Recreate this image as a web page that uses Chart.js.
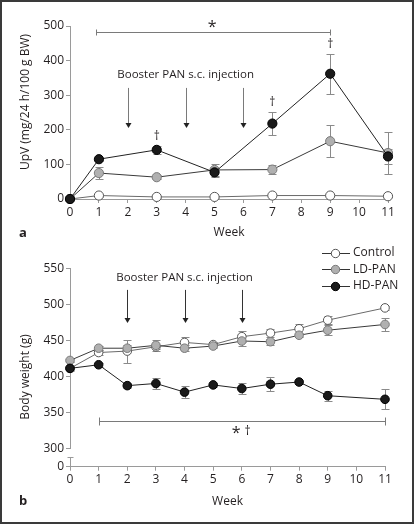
<!DOCTYPE html>
<html><head><meta charset="utf-8">
<script src="https://cdn.jsdelivr.net/npm/chart.js@4.4.1/dist/chart.umd.min.js"></script>
<style>
html,body{margin:0;padding:0;background:#fff;}
#wrap{position:relative;width:414px;height:524px;background:#fff;overflow:hidden;}
#wrap canvas{position:absolute;left:0;top:0;}
#frame{position:absolute;left:0;top:0;width:410px;height:520px;border:2px solid #3a3a3a;pointer-events:none;}
</style></head><body>
<div id="wrap"><canvas id="ca" width="414" height="524"></canvas><canvas id="cb" width="414" height="524"></canvas><div id="frame"></div></div>
<script>
// ---------- data ----------
const weekTicks = [0,1,2,3,4,5,6,7,8,9,10,11];
const weekTickLabels = ['0','1','2','3','4','5','6','7','8','9','10','11'];
const seriesNames = ['Control','LD-PAN','HD-PAN'];

// Panel a: urinary protein
const weeksA = [0,1,3,5,7,9,11];
const upvControl = [0,10,6,6,10,10,8];
const upvLD = [0,75,63,84,85,167,133];
const upvHD = [0,115,142,77,218,362,123];
const upvControlErr = [0,3,2,2,3,3,2];
const upvLDErr = [0,18,5,18,12,46,62];
const upvHDErr = [0,6,12,14,34,58,22];
const upvTicks = [0,100,200,300,400,500];
const upvTickLabels = ['0','100','200','300','400','500'];
const upvDaggerWeeks = [3,7,9];

// Panel b: body weight
const weeksB = [0,1,2,3,4,5,6,7,8,9,11];
const bwControl = [411,433,435,441,447,444,455,460,466,478,495];
const bwLD = [422,439,439,443,439,442,449,448,457,464,472];
const bwHD = [411,416,387,390,378,388,383,389,392,373,368];
const bwControlErr = [2,3,16,3,8,3,8,6,7,6,3];
const bwLDErr = [2,3,4,8,4,3,7,4,3,7,9];
const bwHDErr = [3,3,3,7,8,3,8,10,3,7,14];
const bwFloor = 274.4;           // broken axis: bottom of axis labelled 0
const bwTicks = [274.4,300,350,400,450,500,550];
const bwTickLabels = ['0','300','350','400','450','500','550'];

const boosterWeeks = [2,4,6];

// ---------- styling ----------
const FONT = "'Open Sans', 'Noto Sans', sans-serif";
const FS = 12;
const TXT = '#231f20';
const AX = '#9a9a9a';
Chart.defaults.font.family = FONT;
Chart.defaults.font.size = FS;
Chart.defaults.color = TXT;

const look = [
  {borderColor:'#6a6a6a', pointBackgroundColor:'#ffffff', pointBorderColor:'#555555', order:3},
  {borderColor:'#3a3a3a', pointBackgroundColor:'#b0b0b0', pointBorderColor:'#7a7a7a', order:2},
  {borderColor:'#222222', pointBackgroundColor:'#1a1a1a', pointBorderColor:'#000000', order:1}
];

function pts(xs, ys){ return xs.map((x,i)=>({x:x, y:ys[i]})); }
function makeSet(i, xs, ys, errs, r){
  return Object.assign({
    label: seriesNames[i], data: pts(xs, ys), errors: errs,
    borderWidth: 1, pointRadius: r, pointBorderWidth: 1, pointHoverRadius: r,
    fill: false, tension: 0, clip: false
  }, look[i]);
}

function xScale(){
  return {
    type:'linear', min:0, max:11,
    afterBuildTicks(s){ s.ticks = weekTicks.map(v=>({value:v})); },
    afterFit(s){ s.height = 22; },
    ticks:{ autoSkip:false, maxRotation:0, padding:2, color:TXT, font:{size:FS},
      callback:(v)=> weekTickLabels[weekTicks.indexOf(v)] },
    grid:{ drawOnChartArea:false, drawTicks:true, tickLength:4, color:AX },
    border:{ color:AX, width:1 }
  };
}
function yScale(min, max, ticks, labels){
  return {
    type:'linear', min:min, max:max,
    afterBuildTicks(s){ s.ticks = ticks.map(v=>({value:v})); },
    afterFit(s){ s.width = 70; },
    ticks:{ autoSkip:false, padding:2, color:TXT, font:{size:FS},
      callback:(v)=> labels[ticks.indexOf(v)] },
    grid:{ drawOnChartArea:false, drawTicks:true, tickLength:4, color:AX },
    border:{ color:AX, width:1 }
  };
}

const errorBars = {
  id:'errorBars',
  beforeDatasetsDraw(chart){
    const ctx = chart.ctx, xs = chart.scales.x, ys = chart.scales.y;
    ctx.save();
    ctx.strokeStyle = '#8a8a8a'; ctx.lineWidth = 1;
    chart.data.datasets.forEach(ds=>{
      if(!ds.errors) return;
      ds.data.forEach((p,j)=>{
        const e = ds.errors[j]; if(!e) return;
        const px = Math.round(xs.getPixelForValue(p.x)) + 0.5;
        const t = Math.round(ys.getPixelForValue(p.y + e)) + 0.5;
        const b = Math.round(ys.getPixelForValue(p.y - e)) + 0.5;
        ctx.beginPath();
        ctx.moveTo(px, t); ctx.lineTo(px, b);
        ctx.moveTo(px-4, t); ctx.lineTo(px+4, t);
        ctx.moveTo(px-4, b); ctx.lineTo(px+4, b);
        ctx.stroke();
      });
    });
    ctx.restore();
  }
};

function txt(ctx, s, x, y, opts){
  opts = opts || {};
  ctx.save();
  ctx.font = (opts.weight||'normal') + ' ' + (opts.size||FS) + 'px ' + FONT;
  ctx.fillStyle = opts.color || TXT;
  ctx.textAlign = opts.align || 'center';
  ctx.textBaseline = opts.base || 'middle';
  if(opts.rot){ ctx.translate(x,y); ctx.rotate(opts.rot); ctx.fillText(s,0,0); }
  else ctx.fillText(s, x, y);
  ctx.restore();
}
function arrow(ctx, x, y1, y2, col){
  x = Math.round(x) + 0.5;
  ctx.save();
  ctx.strokeStyle = col; ctx.fillStyle = '#222'; ctx.lineWidth = 1;
  ctx.beginPath(); ctx.moveTo(x, y1); ctx.lineTo(x, y2-4); ctx.stroke();
  ctx.beginPath(); ctx.moveTo(x-3, y2-5); ctx.lineTo(x+3, y2-5); ctx.lineTo(x, y2); ctx.closePath(); ctx.fill();
  ctx.restore();
}
function bracket(ctx, x1, x2, y, up, down){
  y = Math.round(y) + 0.5; x1 = Math.round(x1)+0.5; x2 = Math.round(x2)+0.5;
  ctx.save(); ctx.strokeStyle = '#7a7a7a'; ctx.lineWidth = 1;
  ctx.beginPath();
  ctx.moveTo(x1, y); ctx.lineTo(x2, y);
  ctx.moveTo(x1, y-up); ctx.lineTo(x1, y+down);
  ctx.moveTo(x2, y-up); ctx.lineTo(x2, y+down);
  ctx.stroke(); ctx.restore();
}

const annotA = {
  id:'annotA',
  afterDraw(chart){
    const ctx = chart.ctx, x = chart.scales.x, y = chart.scales.y, ca = chart.chartArea;
    txt(ctx, 'UpV (mg/24 h/100 g BW)', 26, 102, {rot:-Math.PI/2});
    txt(ctx, 'Week', (ca.left+ca.right)/2, 233);
    txt(ctx, 'a', 23, 233, {weight:'bold', size:13});
    txt(ctx, 'Booster PAN s.c. injection', x.getPixelForValue(4), y.getPixelForValue(360), {size:11.5});
    boosterWeeks.forEach(w=> arrow(ctx, x.getPixelForValue(w), y.getPixelForValue(321), y.getPixelForValue(205), '#7a7a7a'));
    bracket(ctx, x.getPixelForValue(0.9), x.getPixelForValue(9), y.getPixelForValue(483.5), 3, 3);
    txt(ctx, '*', x.getPixelForValue(4.92), 32, {size:16, base:'alphabetic'});
    upvDaggerWeeks.forEach(w=>{
      const i = weeksA.indexOf(w);
      const top = y.getPixelForValue(upvHD[i] + upvHDErr[i]);
      txt(ctx, '\u2020', x.getPixelForValue(w), top - 9, {size:12});
    });
  }
};

const annotB = {
  id:'annotB',
  afterDraw(chart){
    const ctx = chart.ctx, x = chart.scales.x, y = chart.scales.y, ca = chart.chartArea;
    // axis break
    const ax = Math.round(ca.left);
    const y300 = y.getPixelForValue(300);
    ctx.clearRect(ax-3, Math.round(y300)+1, 6, 8);
    ctx.save(); ctx.strokeStyle = AX; ctx.lineWidth = 1;
    ctx.beginPath(); ctx.moveTo(ax-2.5, Math.round(y300)+9.5); ctx.lineTo(ax+3.5, Math.round(y300)+9.5); ctx.stroke();
    ctx.restore();
    txt(ctx, 'Body weight (g)', 26, 377, {rot:-Math.PI/2});
    txt(ctx, 'Week', (ca.left+ca.right)/2, 502);
    txt(ctx, 'b', 23, 501, {weight:'bold', size:13});
    txt(ctx, 'Booster PAN s.c. injection', x.getPixelForValue(4), y.getPixelForValue(536.5), {size:11.5});
    boosterWeeks.forEach(w=> arrow(ctx, x.getPixelForValue(w), y.getPixelForValue(520), y.getPixelForValue(474), '#333'));
    bracket(ctx, x.getPixelForValue(1), x.getPixelForValue(11), y.getPixelForValue(338.3), 4, 4);
    txt(ctx, '*', x.getPixelForValue(5.8), 438, {size:16, base:'alphabetic'});
    txt(ctx, '\u2020', x.getPixelForValue(6.2), 432, {size:12});
    // legend
    const rows = [252.7, 269.3, 286];
    rows.forEach((ry,i)=>{
      ctx.save();
      ctx.strokeStyle = '#333'; ctx.lineWidth = 1;
      ctx.beginPath(); ctx.moveTo(322, Math.round(ry)+0.5); ctx.lineTo(350, Math.round(ry)+0.5); ctx.stroke();
      ctx.beginPath(); ctx.arc(335.5, Math.round(ry)+0.5, 4.2, 0, Math.PI*2);
      ctx.fillStyle = look[i].pointBackgroundColor; ctx.fill();
      ctx.strokeStyle = look[i].pointBorderColor; ctx.stroke();
      ctx.restore();
      txt(ctx, seriesNames[i], 353, ry, {align:'left'});
    });
  }
};

const common = {
  responsive:false, animation:false, devicePixelRatio:1,
  plugins:{ legend:{display:false}, tooltip:{enabled:false} },
  events:[]
};

new Chart(document.getElementById('ca'), {
  type:'line',
  data:{ datasets:[
    makeSet(0, weeksA, upvControl, upvControlErr, 4.6),
    makeSet(1, weeksA, upvLD, upvLDErr, 4.6),
    makeSet(2, weeksA, upvHD, upvHDErr, 4.6)
  ]},
  options: Object.assign({}, common, {
    layout:{ padding:{ left:0, right:26, top:26, bottom:303 } },
    scales:{ x: xScale(), y: yScale(0, 500, upvTicks, upvTickLabels) }
  }),
  plugins:[errorBars, annotA]
});

new Chart(document.getElementById('cb'), {
  type:'line',
  data:{ datasets:[
    makeSet(0, weeksB, bwControl, bwControlErr, 4.3),
    makeSet(1, weeksB, bwLD, bwLDErr, 4.3),
    makeSet(2, weeksB, bwHD, bwHDErr, 4.3)
  ]},
  options: Object.assign({}, common, {
    layout:{ padding:{ left:0, right:29, top:268.3, bottom:35.3 } },
    scales:{ x: xScale(), y: yScale(bwFloor, 550, bwTicks, bwTickLabels) }
  }),
  plugins:[errorBars, annotB]
});
</script></body></html>
